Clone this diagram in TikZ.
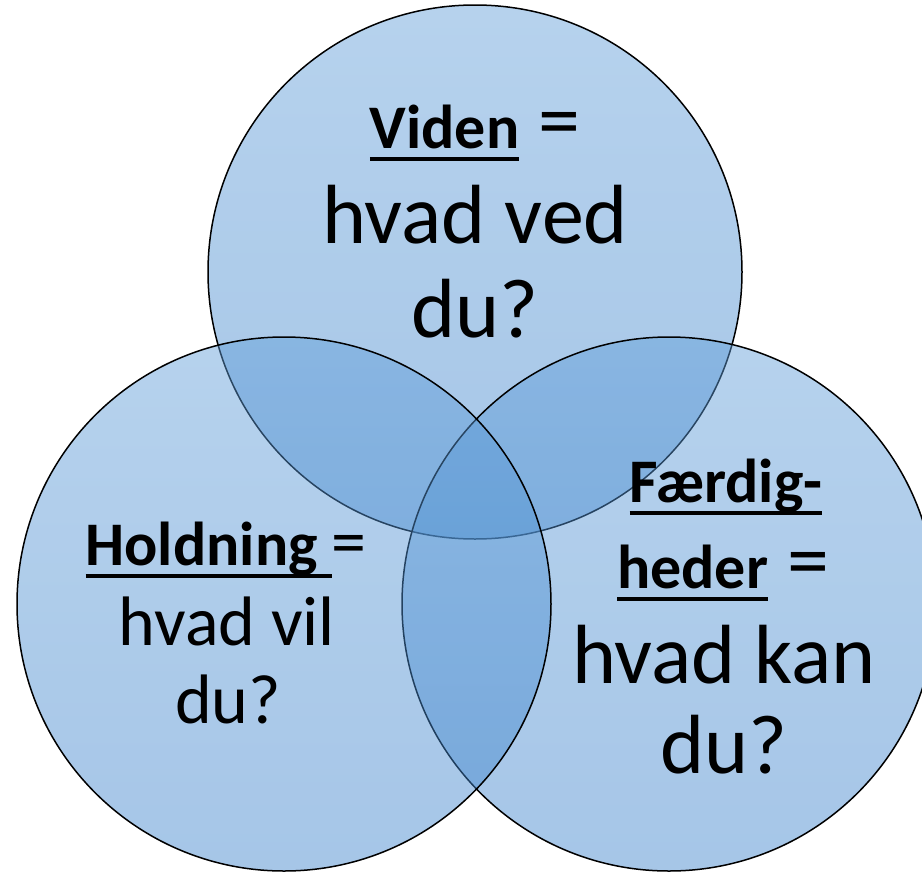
\documentclass[tikz,border=0pt]{standalone}
\usepackage{fontspec}
\setmainfont{Carlito}
\newcommand\myul[1]{\setbox0=\hbox{#1}\rlap{\rule[-12.5pt]{\wd0}{4pt}}\box0}
\definecolor{ctop}{RGB}{96,157,216}
\definecolor{cbot}{RGB}{60,130,203}
\tikzset{
  venn/.style={circle, minimum size=534pt, inner sep=0pt, top color=ctop, bottom color=cbot,
    fill opacity=0.46, draw=black, draw opacity=1, line width=1.5pt},
  lbl/.style={anchor=base, inner sep=0pt, text=black},
  big/.style={font=\fontsize{84}{84}\selectfont},
  mid/.style={font=\fontsize{70}{70}\selectfont},
}
\newcommand\bhead{\fontsize{62}{62}\selectfont\bfseries}
\begin{document}
\begin{tikzpicture}[x=1pt,y=-1pt]
\useasboundingbox (0,0) rectangle (922,873);
\clip (0,0) rectangle (922,873);
\node[venn] (top) at (475,272) {};
\node[venn] (right) at (669,604) {};
\node[venn] (left) at (284,604) {};
% top
\node[lbl] (v1) at (475,148) {{\bhead\myul{Viden}}{\fontsize{84}{84}\selectfont\ =}};
\node[lbl,big] (v2) at (475,243) {hvad ved};
\node[lbl,big] (v3) at (475,337) {du?};
% left
\node[lbl] (h1) at (226,565) {{\bhead\myul{Holdning\ }}{\fontsize{70}{70}\selectfont=}};
\node[lbl,mid] (h2) at (227,645) {hvad vil};
\node[lbl,mid] (h3) at (228,723) {du?};
% right
\node[lbl] (f1) at (726,502) {{\bhead\myul{Færdig-}}};
\node[lbl] (f2) at (723,588) {{\bhead\myul{heder}}{\fontsize{84}{84}\selectfont\ =}};
\node[lbl,big] (f3) at (724,683) {hvad kan};
\node[lbl,big] (f4) at (724,773) {du?};
\end{tikzpicture}
\end{document}
